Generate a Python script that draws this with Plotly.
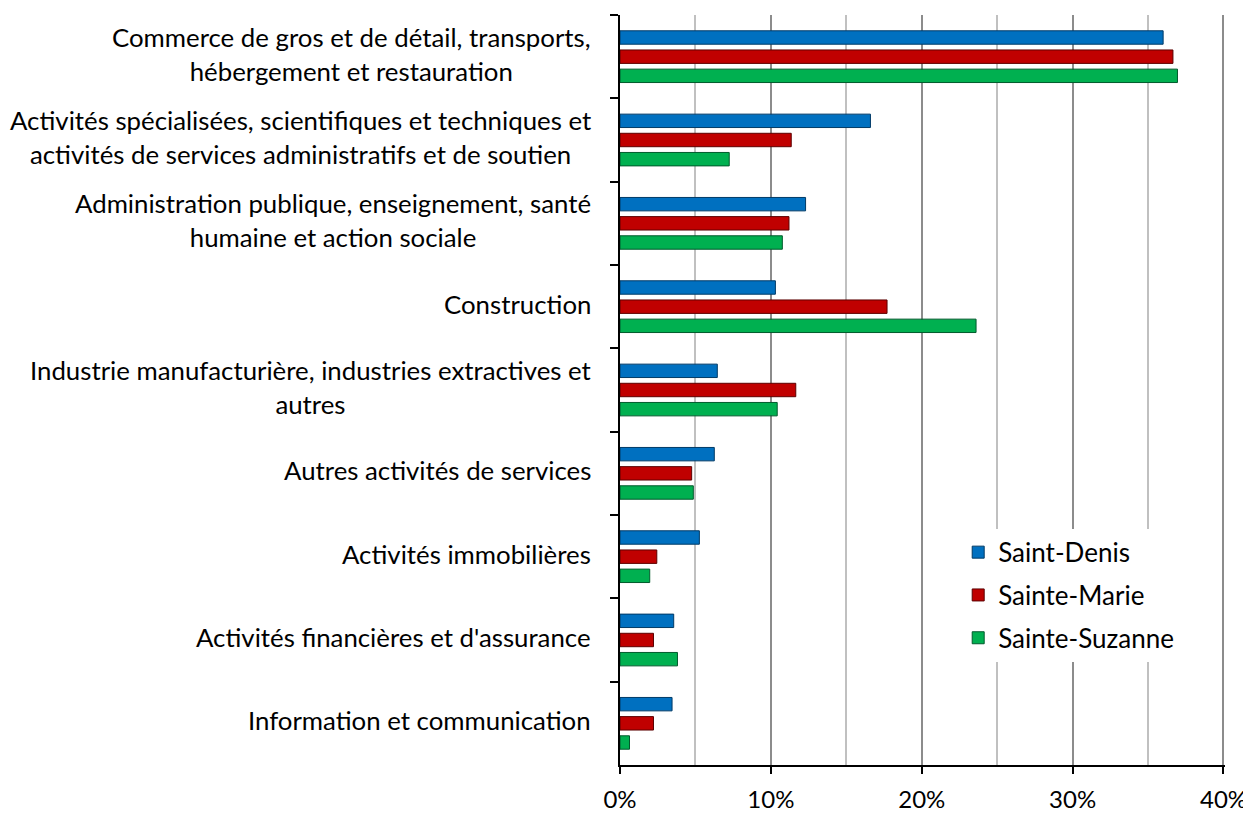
import plotly.graph_objects as go

CATEGORIES = [
    "Commerce de gros et de détail, transports,<br>hébergement et restauration",
    "Activités spécialisées, scientifiques et techniques et<br>activités de services administratifs et de soutien",
    "Administration publique, enseignement, santé<br>humaine et action sociale",
    "Construction",
    "Industrie manufacturière, industries extractives et<br>autres",
    "Autres activités de services",
    "Activités immobilières",
    "Activités financières et d'assurance",
    "Information et communication",
]

SERIES = ["Saint-Denis", "Sainte-Marie", "Sainte-Suzanne"]
SAINT_DENIS = [36.0, 16.6, 12.3, 10.3, 6.45, 6.25, 5.26, 3.56, 3.45]
SAINTE_MARIE = [36.65, 11.35, 11.2, 17.7, 11.65, 4.75, 2.44, 2.22, 2.22]
SAINTE_SUZANNE = [36.95, 7.24, 10.76, 23.6, 10.42, 4.86, 1.97, 3.81, 0.63]
X_TICKS = [0, 10, 20, 30, 40]
X_LABELS = ["0%", "10%", "20%", "30%", "40%"]

COLORS = ["#0070C0", "#C00000", "#00B050"]
EDGES = ["#003a66", "#5c0000", "#005a2c"]
FONT = "Lato"

fig = go.Figure()
for i, (name, vals) in enumerate(zip(SERIES, [SAINT_DENIS, SAINTE_MARIE, SAINTE_SUZANNE])):
    fig.add_trace(go.Bar(
        y=CATEGORIES, x=vals, name=name, orientation="h",
        legendgroup=name,
        marker=dict(color=COLORS[i], line=dict(color=EDGES[i], width=1)),
    ))

# category labels as centred multi-line annotations left of the axis
for cat in CATEGORIES:
    fig.add_annotation(
        x=0, xref="paper", y=cat, yref="y",
        text=cat, showarrow=False, xanchor="right", xshift=-27, yshift=3,
        align="center", font=dict(family=FONT, size=25.8, color="#000000"),
    )

# the page body adds an 8px margin, so margins are shifted by 8px
fig.update_layout(
    width=1251, height=814,
    plot_bgcolor="white", paper_bgcolor="white",
    margin=dict(l=612, r=34, t=7, b=57),
    barmode="group", bargap=0.31, bargroupgap=0.3,
    font=dict(family=FONT, size=24, color="#000000"),
    legend=dict(
        x=0.559, y=0.315, xanchor="left", yanchor="top",
        bgcolor="rgba(255,255,255,1)", font=dict(size=26),
        tracegroupgap=6, itemwidth=30,
    ),
    xaxis=dict(
        range=[0, 40.1], tickvals=X_TICKS, ticktext=X_LABELS,
        automargin=False, ticklabeloverflow="allow",
        showgrid=True, gridcolor="#8c8c8c", gridwidth=1.5,
        minor=dict(dtick=5, showgrid=True, gridcolor="#c0c0c0", gridwidth=1.5),
        showline=True, linecolor="#000000", linewidth=2,
        ticks="outside", ticklen=7, tickcolor="#000000", tickwidth=1.5,
        ticklabelstandoff=5, zeroline=False,
    ),
    yaxis=dict(
        autorange="reversed", showticklabels=False, automargin=False,
        tickson="boundaries", ticks="outside", ticklen=8,
        tickcolor="#000000", tickwidth=2,
        showline=True, linecolor="#000000", linewidth=2, showgrid=False,
    ),
)

fig.write_html("out.html")
